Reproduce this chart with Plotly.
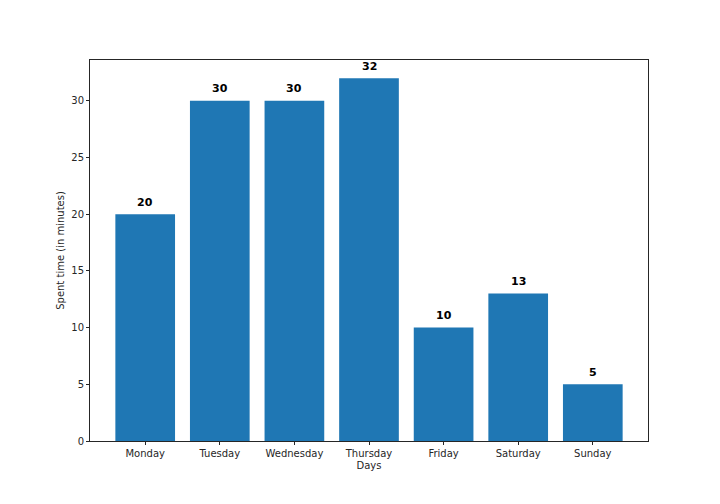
import plotly.graph_objects as go

days = ["Monday", "Tuesday", "Wednesday", "Thursday", "Friday", "Saturday", "Sunday"]
minutes = [20, 30, 30, 32, 10, 13, 5]

fig = go.Figure()
fig.add_trace(go.Bar(x=list(range(len(days))), y=minutes, width=0.8,
                     marker=dict(color="#1f77b4", line=dict(width=0))))

for i, v in enumerate(minutes):
    fig.add_annotation(x=i, y=v, text=f"<b>{v}</b>", showarrow=False,
                       yshift=12, font=dict(size=11, color="black"))

axis_common = dict(showline=True, linecolor="#262626", linewidth=1, mirror=True,
                   ticks="outside", ticklen=3, tickcolor="#262626",
                   showgrid=False, zeroline=False,
                   tickfont=dict(size=10, color="#262626"))

fig.update_xaxes(range=[-0.74, 6.74], tickvals=list(range(len(days))), ticktext=days,
                 title=dict(text="Days", font=dict(size=10, color="#262626"), standoff=3),
                 **axis_common)
fig.update_yaxes(range=[0, 33.6], dtick=5,
                 title=dict(text="Spent time (in minutes)", font=dict(size=10, color="#262626"), standoff=4),
                 **axis_common)

# page body has an 8px margin, so shift the plot area up/left to match
fig.update_layout(width=720, height=504, margin=dict(l=82, r=80, t=52, b=71),
                  plot_bgcolor="white", paper_bgcolor="white", showlegend=False,
                  font=dict(family="DejaVu Sans"))

fig.write_html("out.html")
